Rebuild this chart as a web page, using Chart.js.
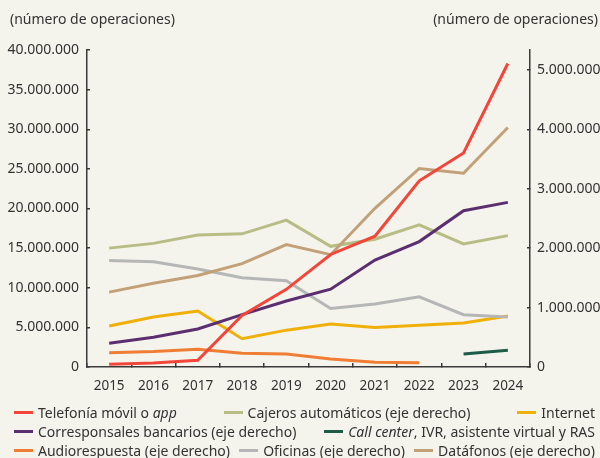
<!DOCTYPE html>
<html lang="es">
<head>
    <meta charset="UTF-8">
    <script src="https://cdn.jsdelivr.net/npm/chart.js"></script>
    <title>Número de operaciones por canal</title>
    <style>
        body { margin: 0; background: #f4f3ec; }
        #wrap { position: relative; width: 600px; height: 458px; overflow: hidden; background: #f4f3ec;
                font-family: "Noto Sans", sans-serif; color: #333; }
        #chart { position: absolute; left: 0; top: 0; }
        .axisTitle { position: absolute; top: 9px; font-size: 14px; line-height: 20px; }
        #legend { position: absolute; left: 14px; right: 5px; top: 403px; font-size: 14px; line-height: 19px; }
        .row { display: flex; justify-content: space-between; white-space: nowrap; }
        .item { display: flex; align-items: center; }
        .swatch { display: inline-block; width: 19px; height: 3px; margin-right: 5px; }
    </style>
</head>
<body>
<div id="wrap">
    <canvas id="chart" width="600" height="458"></canvas>
    <div class="axisTitle" style="left:10px">(número de operaciones)</div>
    <div class="axisTitle" style="right:2px">(número de operaciones)</div>
    <div id="legend"></div>
</div>

<script>
    // años
    const years = ['2015', '2016', '2017', '2018', '2019', '2020', '2021', '2022', '2023', '2024'];

    // eje izquierdo
    const telefonia = [340000, 500000, 850000, 6500000, 9800000, 14200000, 16500000, 23500000, 27000000, 38300000];
    const internet = [5170000, 6300000, 7070000, 3570000, 4650000, 5430000, 5000000, 5260000, 5550000, 6430000];

    // eje derecho
    const cajeros = [2000000, 2080000, 2220000, 2240000, 2470000, 2030000, 2150000, 2390000, 2070000, 2210000];
    const corresponsales = [400000, 500000, 640000, 880000, 1110000, 1310000, 1800000, 2110000, 2630000, 2770000];
    const callCenter = [null, null, null, null, null, null, null, null, 220000, 280000];
    const audiorespuesta = [240000, 260000, 300000, 230000, 220000, 134000, 80000, 70000, null, null];
    const oficinas = [1790000, 1770000, 1650000, 1500000, 1450000, 985000, 1060000, 1180000, 880000, 840000];
    const datafonos = [1260000, 1410000, 1540000, 1740000, 2060000, 1890000, 2670000, 3340000, 3260000, 4030000];

    const leftTicks = [0, 5000000, 10000000, 15000000, 20000000, 25000000, 30000000, 35000000, 40000000];
    const rightTicks = [0, 1000000, 2000000, 3000000, 4000000, 5000000];

    const colors = {
        telefonia: '#f2463a',
        cajeros: '#b7bd84',
        internet: '#efb00a',
        corresponsales: '#5b2f6f',
        callCenter: '#1f5c48',
        audio: '#ef7e34',
        oficinas: '#b5b7b6',
        datafonos: '#c2a179'
    };

    function fmt(v) {
        return String(Math.round(v)).replace(/\B(?=(\d{3})+(?!\d))/g, '.');
    }

    function line(label, data, color, axis) {
        return {
            label: label, data: data, borderColor: color, backgroundColor: color,
            borderWidth: 3, pointRadius: 0, fill: false, tension: 0,
            yAxisID: axis, spanGaps: false, borderCapStyle: 'butt'
        };
    }

    const axisColor = '#3a3a3a';
    const tickFont = { family: 'Noto Sans', size: 14 };

    new Chart(document.getElementById('chart'), {
        type: 'line',
        data: {
            labels: years,
            datasets: [
                line('Telefonía móvil o app', telefonia, colors.telefonia, 'y'),
                line('Datáfonos (eje derecho)', datafonos, colors.datafonos, 'y1'),
                line('Corresponsales bancarios (eje derecho)', corresponsales, colors.corresponsales, 'y1'),
                line('Cajeros automáticos (eje derecho)', cajeros, colors.cajeros, 'y1'),
                line('Oficinas (eje derecho)', oficinas, colors.oficinas, 'y1'),
                line('Internet', internet, colors.internet, 'y'),
                line('Call center, IVR, asistente virtual y RAS', callCenter, colors.callCenter, 'y1'),
                line('Audiorespuesta (eje derecho)', audiorespuesta, colors.audio, 'y1')
            ]
        },
        options: {
            responsive: false,
            devicePixelRatio: 1,
            animation: false,
            layout: { padding: { top: 50, left: 0, right: 0, bottom: 0 } },
            plugins: { legend: { display: false }, tooltip: { enabled: false } },
            scales: {
                x: {
                    offset: true,
                    grid: { offset: true, drawOnChartArea: false, tickLength: -4, color: axisColor, lineWidth: 1.5 },
                    border: { color: axisColor, width: 1.5 },
                    ticks: { color: '#333', font: { family: 'Noto Sans', size: 13.5 }, padding: 15, maxRotation: 0 },
                    afterFit: s => { s.height = 91; }
                },
                y: {
                    position: 'left',
                    min: 0, max: 40000000,
                    afterBuildTicks: s => { s.ticks = leftTicks.map(v => ({ value: v })); },
                    afterFit: s => { s.width = 87; },
                    grid: { drawOnChartArea: false, tickLength: -3, color: axisColor, lineWidth: 1.5 },
                    border: { color: axisColor, width: 1.5 },
                    ticks: { color: '#333', font: tickFont, padding: 11, callback: v => fmt(v) }
                },
                y1: {
                    position: 'right',
                    min: 0, max: 40000000 / 7.5,
                    afterBuildTicks: s => { s.ticks = rightTicks.map(v => ({ value: v })); },
                    afterFit: s => { s.width = 70; },
                    grid: { drawOnChartArea: false, tickLength: -3, color: axisColor, lineWidth: 1.5 },
                    border: { color: axisColor, width: 1.5 },
                    ticks: { color: '#333', font: tickFont, padding: 10, callback: v => fmt(v) }
                }
            }
        }
    });

    // leyenda en HTML (permite cursiva parcial)
    const legendRows = [
        [['Telefonía móvil o <i>app</i>', colors.telefonia],
         ['Cajeros automáticos (eje derecho)', colors.cajeros],
         ['Internet', colors.internet]],
        [['Corresponsales bancarios (eje derecho)', colors.corresponsales],
         ['<i>Call center</i>, IVR, asistente virtual y RAS', colors.callCenter]],
        [['Audiorespuesta (eje derecho)', colors.audio],
         ['Oficinas (eje derecho)', colors.oficinas],
         ['Datáfonos (eje derecho)', colors.datafonos]]
    ];
    const legend = document.getElementById('legend');
    legendRows.forEach(row => {
        const r = document.createElement('div');
        r.className = 'row';
        row.forEach(([text, color]) => {
            const it = document.createElement('span');
            it.className = 'item';
            it.innerHTML = '<span class="swatch" style="background:' + color + '"></span><span>' + text + '</span>';
            r.appendChild(it);
        });
        legend.appendChild(r);
    });
</script>
</body>
</html>
